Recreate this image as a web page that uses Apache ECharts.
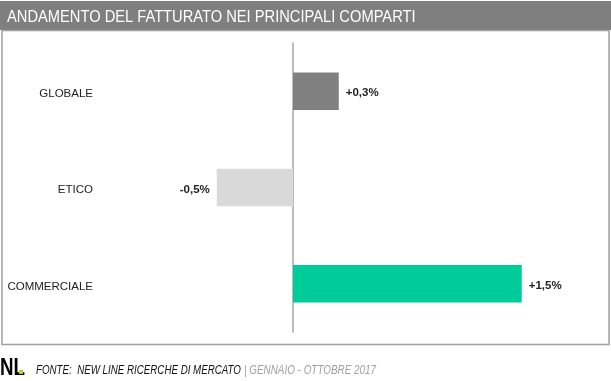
<!DOCTYPE html>
<html>
<head>
<meta charset="utf-8">
<script src="https://cdn.jsdelivr.net/npm/echarts@6/dist/echarts.min.js"></script>
<style>
  html, body { margin: 0; padding: 0; background: #fff; }
  #chart { width: 611px; height: 381px; }
</style>
</head>
<body>
<div id="chart"></div>
<script>
const categories = ['GLOBALE', 'ETICO', 'COMMERCIALE'];
const values = [0.3, -0.5, 1.5];
const barColors = ['#808080', '#d9d9d9', '#00cc99'];
const titleText = 'ANDAMENTO DEL FATTURATO NEI PRINCIPALI COMPARTI';
const sourceText = 'FONTE:  NEW LINE RICERCHE DI MERCATO';
const periodText = '| GENNAIO - OTTOBRE 2017';

const FONT = '"Liberation Sans", Arial, sans-serif';

const chart = echarts.init(document.getElementById('chart'), null, { renderer: 'canvas' });

function fmt(v) {
  const s = Math.abs(v).toFixed(1).replace('.', ',');
  return (v > 0 ? '+' : '-') + s + '%';
}

chart.setOption({
  animation: false,
  backgroundColor: '#ffffff',
  grid: { left: 110, right: 13, top: 43, bottom: 49, containLabel: false, outerBoundsMode: 'none' },
  xAxis: {
    type: 'value',
    min: -1.2,
    max: 2,
    show: false,
    splitLine: { show: false }
  },
  yAxis: [{
    type: 'category',
    data: categories,
    inverse: true,
    axisLine: { show: false, onZero: false },
    axisTick: { show: false },
    axisLabel: {
      margin: 17,
      formatter: '{a|{value}}',
      rich: { a: { color: '#222', fontFamily: FONT, fontSize: 11.5, padding: [5, 0, 0, 0] } }
    }
  }, {
    type: 'category',
    data: categories,
    inverse: true,
    position: 'left',
    axisLine: { show: true, onZero: true, lineStyle: { color: '#a6a6a6', width: 1.5 } },
    axisTick: { show: false },
    axisLabel: { show: false }
  }],
  series: [{
    type: 'bar',
    yAxisIndex: 0,
    barWidth: '39%',
    data: values.map((v, i) => ({
      value: v,
      itemStyle: { color: barColors[i] },
      label: {
        show: true,
        position: v >= 0 ? 'right' : 'left',
        distance: 7,
        offset: [0, 2],
        formatter: () => fmt(v),
        color: '#222',
        fontWeight: 'bold',
        fontFamily: FONT,
        fontSize: 11.5
      }
    }))
  }],
  graphic: [
    { type: 'rect', shape: { x: 0, y: 1, width: 611, height: 29 }, style: { fill: '#7f7f7f' }, silent: true },
    { type: 'text', x: 7, y: 17, scaleX: 0.89, style: { text: titleText, fill: '#ffffff', font: '16.5px ' + FONT, textVerticalAlign: 'middle' } },
    { type: 'rect', shape: { x: 2, y: 30.5, width: 607, height: 314 }, style: { fill: 'none', stroke: '#a0a0a0', lineWidth: 1.5 }, silent: true },
    { type: 'text', x: 0, y: 380, scaleX: 0.78, style: { text: 'NL', fill: '#000000', font: 'bold 24px ' + FONT, textVerticalAlign: 'bottom' } },
    { type: 'rect', shape: { x: 19, y: 370, width: 4, height: 4 }, style: { fill: '#b5d334' } },
    { type: 'text', x: 36, y: 370, scaleX: 0.75, style: { text: sourceText, fill: '#111111', font: 'italic 13px ' + FONT, textVerticalAlign: 'middle' } },
    { type: 'text', x: 244, y: 370, scaleX: 0.76, style: { text: periodText, fill: '#a0a0a0', font: 'italic 13px ' + FONT, textVerticalAlign: 'middle' } }
  ]
});
</script>
</body>
</html>
